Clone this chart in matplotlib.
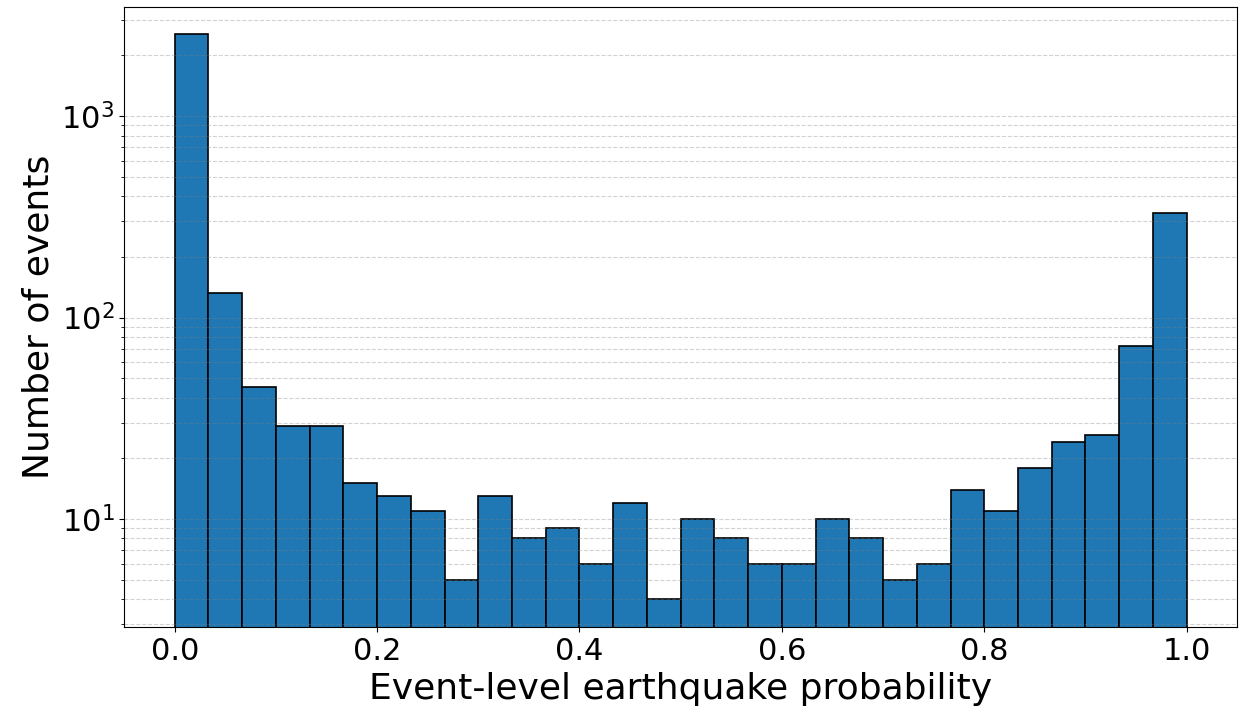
import numpy as np
from matplotlib import pyplot as plt

# counts per bin, 30 equal bins on [0, 1]
counts = [2550, 133, 45, 29, 29, 15, 13, 11, 5, 13,
          8, 9, 6, 12, 4, 10, 8, 6, 6, 10,
          8, 5, 6, 14, 11, 18, 24, 26, 72, 332]
bin_edges = np.linspace(0.0, 1.0, len(counts) + 1)

fig, ax = plt.subplots(figsize=(12.41, 7.21), dpi=100)

ax.hist(bin_edges[:-1], bins=bin_edges, weights=counts,
        color="#1f77b4", edgecolor="black", linewidth=1.2)

ax.set_yscale("log")
ax.set_ylim(2.9, 3470)
ax.set_xlim(-0.05, 1.05)

ax.grid(which="both", axis="y", linestyle="--", color="gray", alpha=0.35, linewidth=0.8)

ax.set_xlabel("Event-level earthquake probability", fontsize=26)
ax.set_ylabel("Number of events", fontsize=26)
ax.tick_params(axis="both", which="major", labelsize=22)

plt.subplots_adjust(left=0.1, right=0.997, top=0.99, bottom=0.13)
plt.savefig("out.png")
